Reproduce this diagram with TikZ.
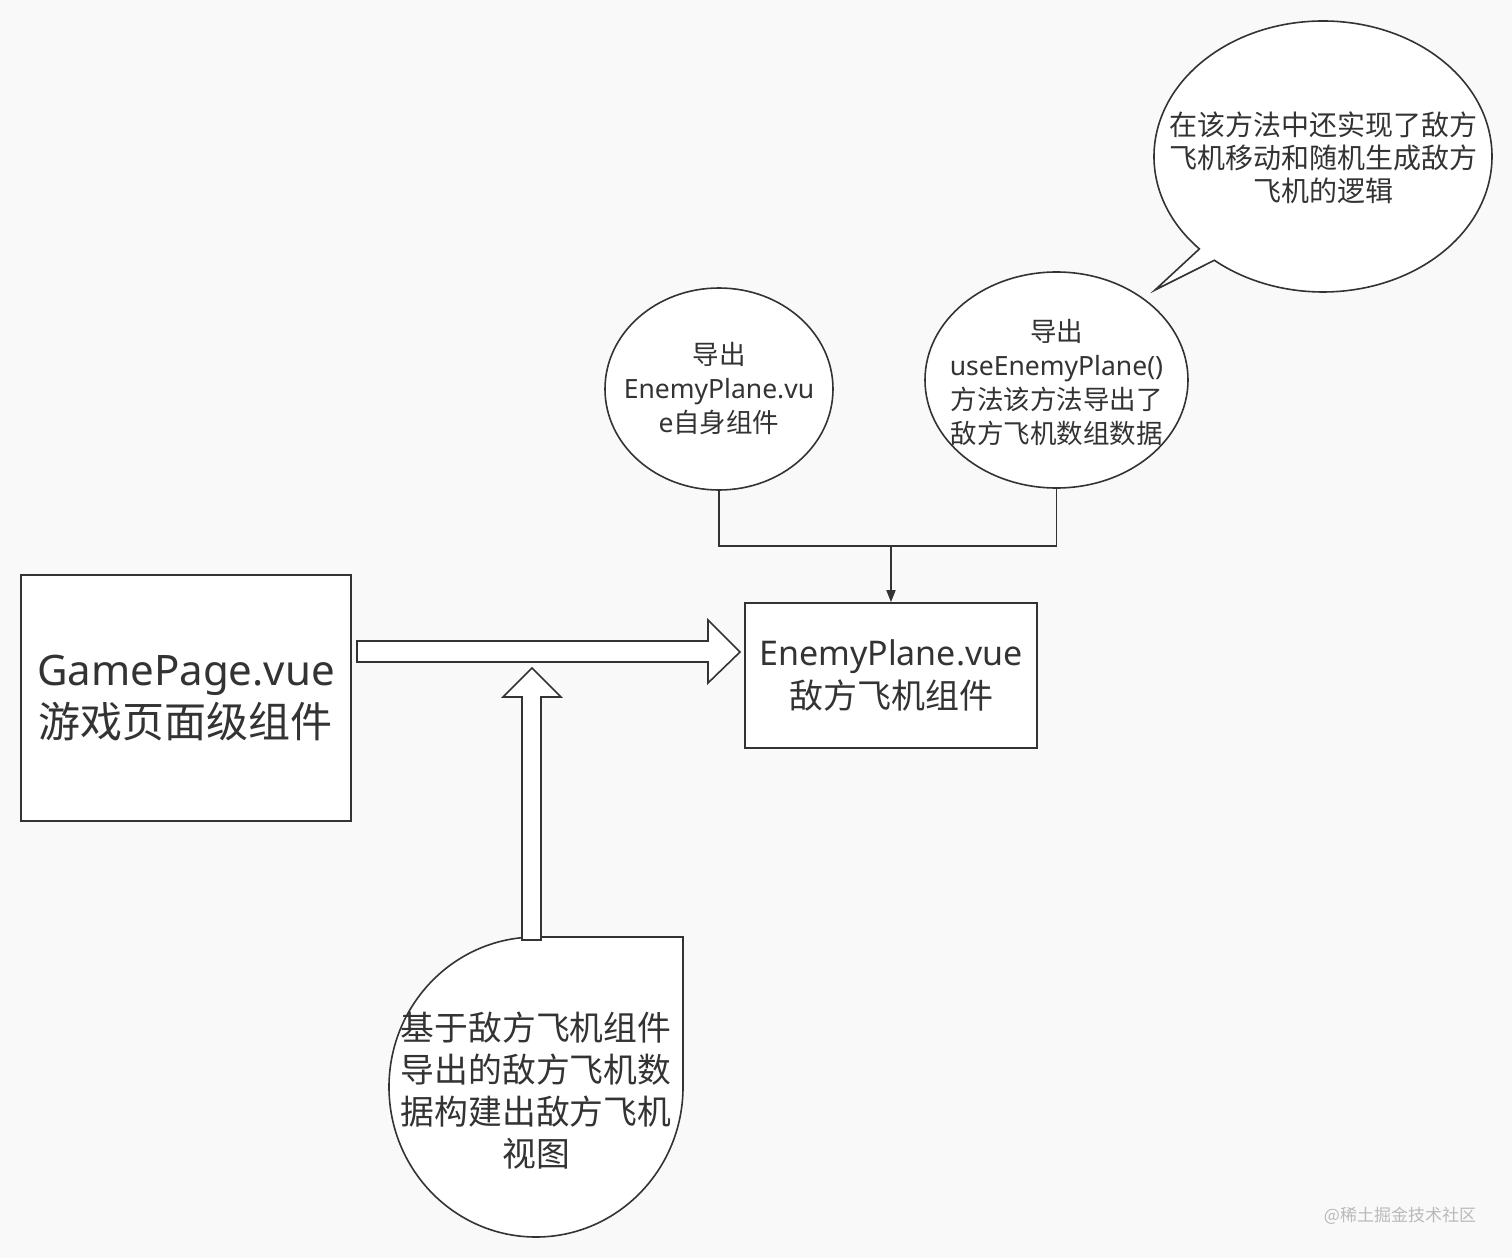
\documentclass[tikz,border=0pt]{standalone}
\usepackage{fontspec}
\setmainfont{Noto Sans CJK SC}
\newfontfamily\latin{Noto Sans}
\usetikzlibrary{arrows.meta,shapes.geometric}
\definecolor{paper}{RGB}{249,249,249}
\definecolor{ink}{RGB}{51,51,51}

\begin{document}
\begin{tikzpicture}[
    x=0.5pt, y=-0.5pt,
    every node/.style={text=ink, align=center},
    comp/.style={draw=ink, fill=white, line width=0.8pt, inner sep=0pt},
    oval/.style={comp, ellipse},
    ovaltext/.style={font=\fontsize{13.25}{17}\selectfont, text=ink, align=center},
    shapeline/.style={draw=ink, fill=white, line width=0.8pt, line join=miter},
    flow/.style={draw=ink, line width=0.8pt, -{Triangle[length=6pt, width=4.5pt]}}
]
\useasboundingbox[fill=paper] (0,0) rectangle (1512,1258);

% components
\node[comp, minimum width=165pt, minimum height=123pt, font=\fontsize{21}{26}\selectfont] (gamepage) at (186,698)
    {{\latin GamePage.vue}\\游戏页面级组件};
\node[comp, minimum width=146pt, minimum height=72.5pt, font=\fontsize{17}{21.5}\selectfont] (enemy) at (891,675.5)
    {{\latin EnemyPlane.vue}\\敌方飞机组件};

% exports
\node[oval, minimum width=114pt, minimum height=101pt,
    label={[ovaltext]center:导出\\{\latin EnemyPlane.vu}\\{\latin e}自身组件}] (selfexport) at (719,389) {};
\node[oval, minimum width=131.5pt, minimum height=108pt,
    label={[ovaltext, yshift=-1pt]center:导出\\{\latin useEnemyPlane()}\\方法该方法导出了\\敌方飞机数组数据}] (hookexport) at (1056.5,380) {};
\coordinate (join) at (891,546);
\draw[draw=ink, line width=0.8pt] (selfexport.south) |- (join);
\draw[draw=ink, line width=0.8pt] (hookexport.south) |- (join);
\draw[flow] (join) -- (enemy.north);

% speech bubble
\draw[shapeline] (1155,290) -- (1199.4,248.9)
    arc[start angle=137, end angle=490, x radius=169, y radius=135.5] -- cycle;
\node[font=\fontsize{14}{16.5}\selectfont] (logic) at (1323,158)
    {在该方法中还实现了敌方\\飞机移动和随机生成敌方\\飞机的逻辑};

% view shape
\draw[shapeline] (683,1087) -- (683,937) -- (536,937)
    arc[start angle=270, end angle=0, x radius=147, y radius=150] -- cycle;
\node[font=\fontsize{16.9}{21}\selectfont] (view) at (536,1091)
    {基于敌方飞机组件\\导出的敌方飞机数\\据构建出敌方飞机\\视图};

% block arrows
\draw[shapeline] (357,641) -- (708,641) -- (708,620) -- (740,652) -- (708,683)
    -- (708,662) -- (357,662) -- cycle;
\draw[shapeline] (522,940) -- (522,697) -- (503,697) -- (532,668) -- (561,697)
    -- (541,697) -- (541,940) -- cycle;

\node[text=gray!55, font=\fontsize{8.5}{10}\selectfont] (mark) at (1400,1216) {@稀土掘金技术社区};
\end{tikzpicture}
\end{document}
